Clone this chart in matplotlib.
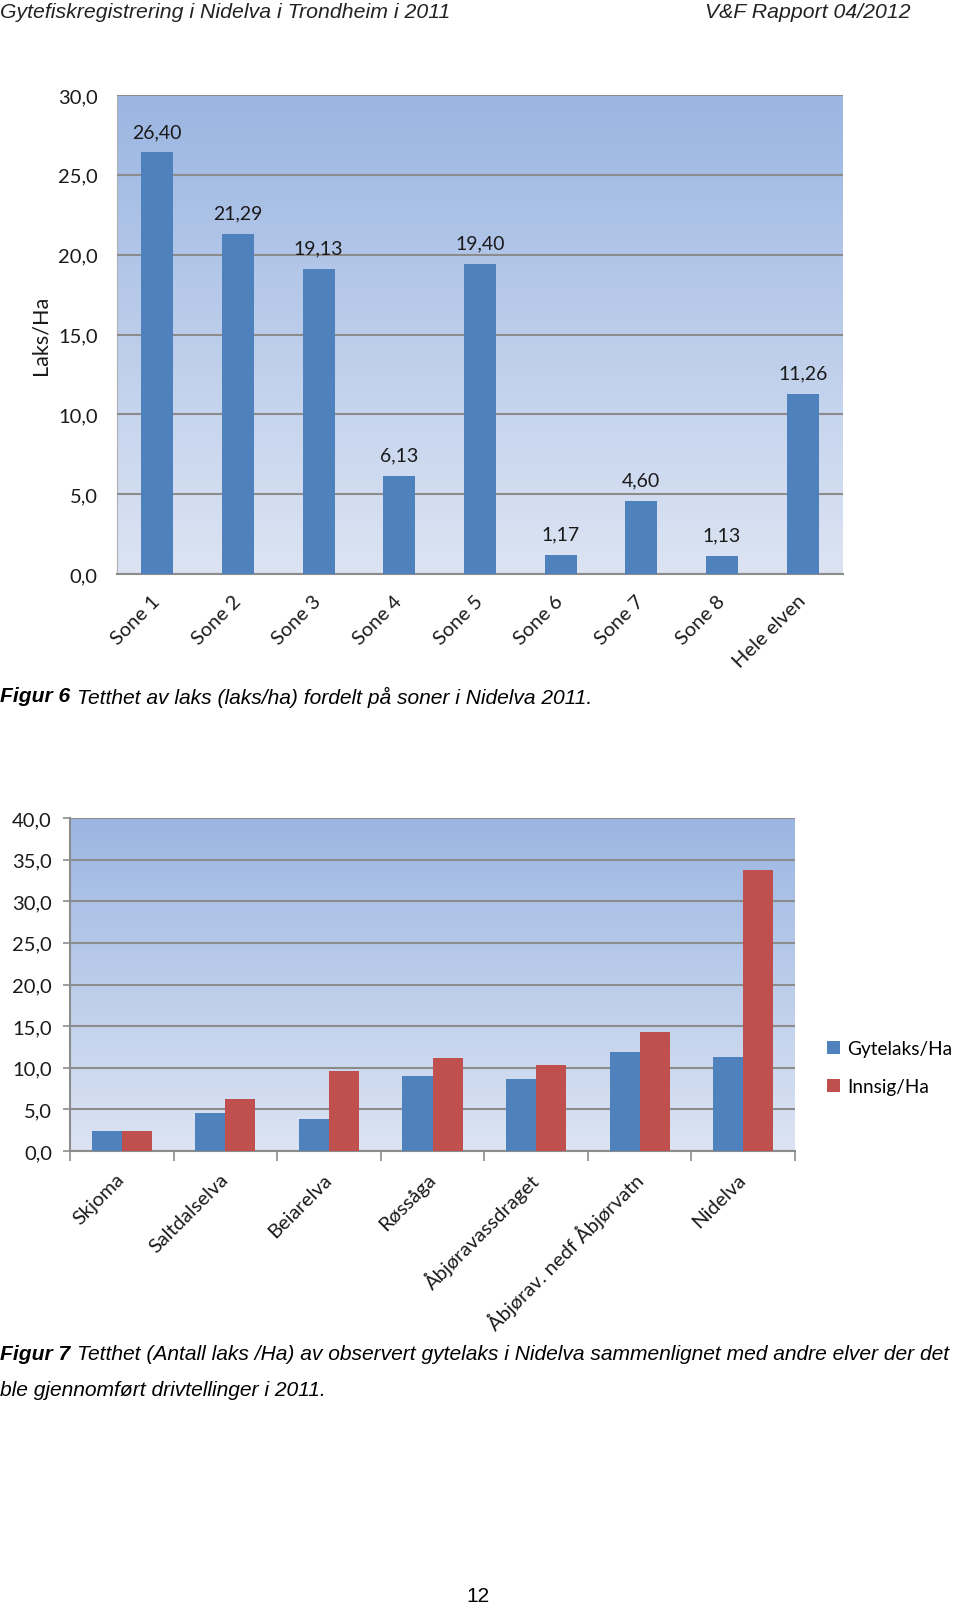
import numpy as np
import matplotlib
matplotlib.use("Agg")
import matplotlib.pyplot as plt
from matplotlib.colors import LinearSegmentedColormap

# --- data ---
zones = ["Sone 1", "Sone 2", "Sone 3", "Sone 4", "Sone 5", "Sone 6", "Sone 7", "Sone 8", "Hele elven"]
laks_per_ha = [26.40, 21.29, 19.13, 6.13, 19.40, 1.17, 4.60, 1.13, 11.26]

rivers = ["Skjoma", "Saltdalselva", "Beiarelva", "Røssåga", "Åbjøravassdraget",
          "Åbjørav. nedf Åbjørvatn", "Nidelva"]
gytelaks = [2.4, 4.6, 3.85, 8.95, 8.6, 11.9, 11.26]
innsig = [2.4, 6.3, 9.55, 11.15, 10.3, 14.35, 33.7]

BLUE = "#4F81BD"
RED = "#C0504D"
GRID = "#8C8C8C"
tick_font = "Lato"
cap_font = ["Liberation Sans Narrow", "Liberation Sans"]
cap_size = 15.1

grad = LinearSegmentedColormap.from_list("bg", ["#DCE4F3", "#9BB6E2"])


def gradient_bg(ax, xlim, ylim):
    ax.imshow(np.linspace(0, 1, 256).reshape(-1, 1), cmap=grad, origin="lower",
              extent=[xlim[0], xlim[1], ylim[0], ylim[1]], aspect="auto", zorder=0)
    ax.set_xlim(*xlim)
    ax.set_ylim(*ylim)


def fmt(v, d):
    return f"{v:.{d}f}".replace(".", ",")


fig = plt.figure(figsize=(9.6, 16.08), dpi=100)

# header
fig.text(0.0, 1 - 13 / 1608, "Gytefiskregistrering i Nidelva i Trondheim i 2011", family=cap_font,
         style="italic", fontsize=15.3, color="#222222", va="center", ha="left")
fig.text(911 / 960, 1 - 13 / 1608, "V&F Rapport 04/2012", family=cap_font,
         style="italic", fontsize=15.3, color="#222222", va="center", ha="right")

# ---- chart 1 ----
ax1 = fig.add_axes([117 / 960, 1 - 575 / 1608, 726 / 960, 479 / 1608])
x1 = np.arange(len(zones))
gradient_bg(ax1, (-0.5, len(zones) - 0.5), (0, 30))
ax1.bar(x1, laks_per_ha, width=0.4, color=BLUE, zorder=3)
for xi, v in zip(x1, laks_per_ha):
    ax1.annotate(fmt(v, 2), (xi, v), xytext=(0, 9), textcoords="offset points",
                 ha="center", va="bottom", fontsize=14, family=tick_font, color="#1a1a1a")
ax1.set_yticks(np.arange(0, 31, 5))
ax1.set_yticklabels([fmt(v, 1) for v in np.arange(0, 31, 5)])
ax1.yaxis.grid(True, color=GRID, linewidth=1.5, zorder=1)
ax1.set_axisbelow(False)
ax1.set_xticks(x1)
ax1.set_xticklabels(zones, rotation=45, ha="right", va="center", rotation_mode="anchor")
ax1.tick_params(axis="both", length=0, labelsize=14.5, labelcolor="#1a1a1a")
ax1.tick_params(axis="y", pad=14)
ax1.tick_params(axis="x", pad=17)
for lab in ax1.get_xticklabels() + ax1.get_yticklabels():
    lab.set_family(tick_font)
for s in ["top", "right"]:
    ax1.spines[s].set_visible(False)
ax1.spines["left"].set_color("#B0B0B0")
ax1.spines["bottom"].set_color(GRID)
ax1.spines["bottom"].set_linewidth(1.5)
ax1.set_ylabel("Laks/Ha", family=tick_font, fontsize=15.5, color="#1a1a1a", labelpad=5)

fig.text(0.0, 1 - 697 / 1608, "Figur 6", family=cap_font, style="italic", weight="bold",
         fontsize=cap_size, va="center", ha="left")
fig.text(77 / 960, 1 - 697 / 1608, "Tetthet av laks (laks/ha) fordelt på soner i Nidelva 2011.",
         family=cap_font, style="italic", fontsize=cap_size, va="center", ha="left")

# ---- chart 2 ----
ax2 = fig.add_axes([70 / 960, 1 - 1152 / 1608, 725 / 960, 333 / 1608])
x2 = np.arange(len(rivers))
gradient_bg(ax2, (-0.5, len(rivers) - 0.5), (0, 40))
w = 0.29
ax2.bar(x2 - w / 2, gytelaks, width=w, color=BLUE, zorder=3, label="Gytelaks/Ha")
ax2.bar(x2 + w / 2, innsig, width=w, color=RED, zorder=3, label="Innsig/Ha")
ax2.set_yticks(np.arange(0, 41, 5))
ax2.set_yticklabels([fmt(v, 1) for v in np.arange(0, 41, 5)])
ax2.yaxis.grid(True, color=GRID, linewidth=1.5, zorder=1)
ax2.set_xticks(x2)
ax2.set_xticklabels(rivers, rotation=45, ha="right", va="center", rotation_mode="anchor")
ax2.set_xticks(np.arange(-0.5, len(rivers), 1.0), minor=True)
ax2.tick_params(axis="x", which="major", length=0, pad=18)
ax2.tick_params(axis="x", which="minor", length=7, width=1.2, color=GRID)
ax2.tick_params(axis="y", length=5, width=1.2, color=GRID, pad=8)
ax2.tick_params(axis="both", which="major", labelsize=14.5, labelcolor="#1a1a1a")
for lab in ax2.get_xticklabels() + ax2.get_yticklabels():
    lab.set_family(tick_font)
for s in ["top", "right"]:
    ax2.spines[s].set_visible(False)
for s in ["left", "bottom"]:
    ax2.spines[s].set_color(GRID)
    ax2.spines[s].set_linewidth(1.5)
leg = ax2.legend(loc="center left", bbox_to_anchor=(1.02, 0.25), frameon=False,
                 prop={"family": tick_font, "size": 13.7}, handlelength=0.7, handleheight=0.7,
                 handletextpad=0.4, labelspacing=1.1)

fig.text(0.0, 1 - 1355 / 1608, "Figur 7", family=cap_font, style="italic", weight="bold",
         fontsize=cap_size, va="center", ha="left")
fig.text(77 / 960, 1 - 1355 / 1608,
         "Tetthet (Antall laks /Ha) av observert gytelaks i Nidelva sammenlignet med andre elver der det",
         family=cap_font, style="italic", fontsize=cap_size, va="center", ha="left")
fig.text(0.0, 1 - 1391 / 1608, "ble gjennomført drivtellinger i 2011.", family=cap_font,
         style="italic", fontsize=cap_size, va="center", ha="left")

fig.text(478 / 960, 1 - 1597 / 1608, "12", family="Liberation Sans", fontsize=15,
         va="center", ha="center")

fig.savefig("out.png", dpi=100)
